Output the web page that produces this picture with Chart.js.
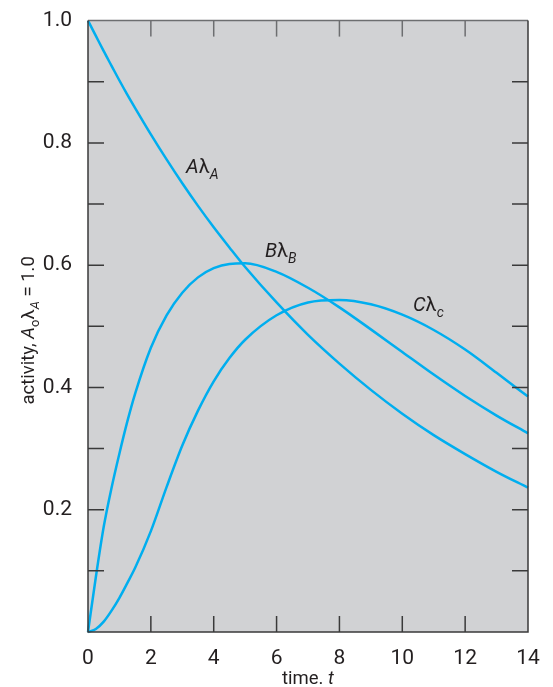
<!DOCTYPE html>
<html lang="en">
<head>
<meta charset="UTF-8">
<title>activity vs time</title>
<script src="https://cdn.jsdelivr.net/npm/chart.js@4.4.1/dist/chart.umd.min.js"></script>
<style>
  html, body { margin: 0; background: #fff; }
  #wrap { width: 553px; height: 687px; }
</style>
</head>
<body>
<div id="wrap"><canvas id="myChart"></canvas></div>
<script>
// values
const times     = [0, 0.25, 0.5, 0.75, 1, 1.25, 1.5, 2, 2.5, 3, 3.5, 4, 4.5, 5, 6, 7, 8, 9, 10, 11, 12, 13, 14];
const activityA = [1.0, 0.975, 0.950, 0.926, 0.902, 0.879, 0.857, 0.814, 0.773, 0.734, 0.697, 0.662, 0.629, 0.597, 0.539, 0.486, 0.439, 0.396, 0.357, 0.322, 0.291, 0.262, 0.236];
const activityB = [0, 0.090, 0.172, 0.236, 0.292, 0.344, 0.390, 0.465, 0.518, 0.555, 0.580, 0.595, 0.602, 0.603, 0.589, 0.563, 0.531, 0.495, 0.458, 0.421, 0.386, 0.354, 0.325];
const activityC = [0, 0.005, 0.017, 0.035, 0.056, 0.080, 0.105, 0.165, 0.237, 0.305, 0.362, 0.410, 0.448, 0.478, 0.518, 0.539, 0.543, 0.536, 0.519, 0.494, 0.462, 0.424, 0.385];

const xTickValues = [0, 2, 4, 6, 8, 10, 12, 14];
const yTickLabels = ['0.2', '0.4', '0.6', '0.8', '1.0'];

// curve labels: [letter, subscript, t, activity]
const curveLabels = [
  ['A', 'A', 3.12, 0.750],
  ['B', 'B', 5.63, 0.613],
  ['C', 'c', 10.34, 0.525]
];

const FONT = 'Roboto, "Liberation Sans", sans-serif';
const WEIGHT = '400';
const TEXT = '#231f20';
const LINE = '#00aeef';

function toPoints(ys) {
  return times.map((t, i) => ({ x: t, y: ys[i] }));
}

// draws a row of text pieces, some italic, some lowered as subscripts
function drawRich(ctx, parts, x, y, size) {
  let cx = x;
  parts.forEach(p => {
    const s = p.sub ? size * 0.7 : size;
    ctx.font = (p.italic ? 'italic ' : '') + WEIGHT + ' ' + s + 'px ' + FONT;
    ctx.fillText(p.text, cx, y + (p.sub ? size * 0.28 : 0));
    cx += ctx.measureText(p.text).width;
  });
  return cx - x;
}
function richWidth(ctx, parts, size) {
  let w = 0;
  parts.forEach(p => {
    const s = p.sub ? size * 0.7 : size;
    ctx.font = (p.italic ? 'italic ' : '') + WEIGHT + ' ' + s + 'px ' + FONT;
    w += ctx.measureText(p.text).width;
  });
  return w;
}

const decor = {
  id: 'decor',
  beforeDatasetsDraw(chart) {
    const { ctx, chartArea: a } = chart;
    ctx.save();
    ctx.fillStyle = '#d1d2d4';
    ctx.fillRect(a.left, a.top, a.right - a.left, a.bottom - a.top);
    ctx.restore();
  },
  afterDatasetsDraw(chart) {
    const { ctx, chartArea: a, scales } = chart;
    const xs = scales.x, ys = scales.y;
    ctx.save();
    ctx.lineWidth = 1.5;

    // inward tick marks
    ctx.strokeStyle = '#3a3a3a';
    ys.ticks.forEach(tk => {
      const py = ys.getPixelForValue(tk.value);
      if (tk.value <= 0.001 || tk.value >= 0.999) return;
      ctx.beginPath();
      ctx.moveTo(a.left, py); ctx.lineTo(a.left + 16, py);
      ctx.moveTo(a.right - 16, py); ctx.lineTo(a.right, py);
      ctx.stroke();
    });
    xTickValues.forEach(v => {
      if (v === 0 || v === 14) return;
      const px = xs.getPixelForValue(v);
      ctx.strokeStyle = '#3a3a3a';
      ctx.beginPath();
      ctx.moveTo(px, a.bottom); ctx.lineTo(px, a.bottom - 16);
      ctx.stroke();
      ctx.strokeStyle = '#6d6e70';
      ctx.beginPath();
      ctx.moveTo(px, a.top); ctx.lineTo(px, a.top + 16);
      ctx.stroke();
    });

    // frame
    ctx.strokeStyle = '#6d6e70';
    ctx.beginPath();
    ctx.moveTo(a.left, a.top); ctx.lineTo(a.right, a.top);
    ctx.stroke();
    ctx.strokeStyle = '#3a3a3a';
    ctx.beginPath();
    ctx.moveTo(a.left, a.top); ctx.lineTo(a.left, a.bottom);
    ctx.lineTo(a.right, a.bottom); ctx.lineTo(a.right, a.top);
    ctx.stroke();

    // curve labels
    ctx.fillStyle = TEXT;
    ctx.textBaseline = 'alphabetic';
    ctx.textAlign = 'left';
    curveLabels.forEach(([letter, sub, t, v]) => {
      drawRich(ctx, [
        { text: letter, italic: true },
        { text: 'λ' },
        { text: sub, italic: true, sub: true }
      ], xs.getPixelForValue(t), ys.getPixelForValue(v), 20);
    });
    ctx.restore();
  },
  afterDraw(chart) {
    const { ctx, chartArea: a } = chart;
    ctx.save();
    ctx.fillStyle = TEXT;
    ctx.textBaseline = 'alphabetic';
    ctx.textAlign = 'left';

    // y title, rotated
    const yParts = [
      { text: 'activity, ' },
      { text: 'A', italic: true },
      { text: 'o', sub: true },
      { text: 'λ' },
      { text: 'A', italic: true, sub: true },
      { text: ' = 1.0' }
    ];
    const yw = richWidth(ctx, yParts, 18.5);
    ctx.translate(34, (a.top + a.bottom) / 2 + 4);
    ctx.rotate(-Math.PI / 2);
    drawRich(ctx, yParts, -yw / 2, 0, 18.5);
    ctx.restore();

    // x title
    ctx.save();
    ctx.fillStyle = TEXT;
    ctx.textBaseline = 'alphabetic';
    ctx.textAlign = 'left';
    const xParts = [{ text: 'time. ' }, { text: 't', italic: true }];
    const xw = richWidth(ctx, xParts, 18.5);
    drawRich(ctx, xParts, (a.left + a.right) / 2 - xw / 2, 684, 18.5);
    ctx.restore();
  }
};

const lineStyle = {
  borderColor: LINE,
  borderWidth: 2.5,
  pointRadius: 0,
  fill: false,
  cubicInterpolationMode: 'monotone',
  clip: false
};

const ctx = document.getElementById('myChart');
const myChart = new Chart(ctx, {
  type: 'line',
  data: {
    datasets: [
      Object.assign({ label: 'A', data: toPoints(activityA) }, lineStyle),
      Object.assign({ label: 'B', data: toPoints(activityB) }, lineStyle),
      Object.assign({ label: 'C', data: toPoints(activityC) }, lineStyle)
    ]
  },
  options: {
    responsive: true,
    maintainAspectRatio: false,
    animation: false,
    layout: { padding: { top: 19, right: 25, left: 0, bottom: 0 } },
    scales: {
      x: {
        type: 'linear',
        min: 0,
        max: 14,
        afterBuildTicks: s => { s.ticks = xTickValues.map(v => ({ value: v })); },
        afterFit: s => { s.height = 55; },
        grid: { display: false },
        border: { display: false },
        ticks: {
          padding: 6,
          color: TEXT,
          font: { family: FONT, size: 21, weight: WEIGHT }
        }
      },
      y: {
        min: 0,
        max: 1,
        afterFit: s => { s.width = 88; },
        grid: { display: false },
        border: { display: false },
        ticks: {
          stepSize: 0.1,
          padding: 8,
          color: TEXT,
          font: { family: FONT, size: 21, weight: WEIGHT },
          callback: v => {
            const lab = v.toFixed(1);
            return yTickLabels.includes(lab) ? lab : '';
          }
        }
      }
    },
    plugins: {
      legend: { display: false },
      tooltip: { enabled: false },
      title: { display: false }
    }
  },
  plugins: [decor]
});
</script>
</body>
</html>
